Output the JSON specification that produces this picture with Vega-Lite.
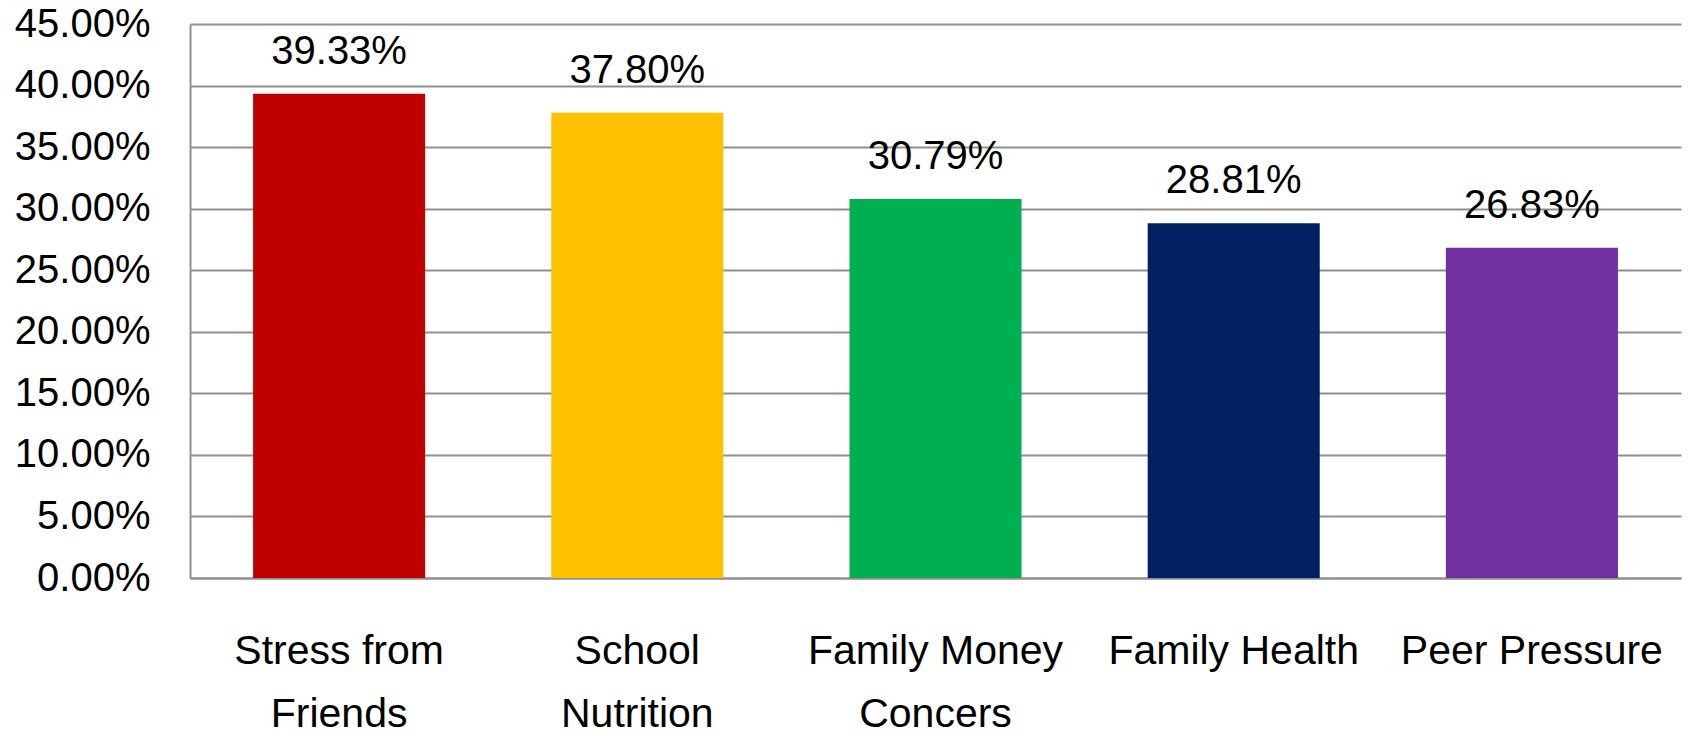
{
  "$schema": "https://vega.github.io/schema/vega-lite/v6.json",
  "autosize": "none",
  "width": 1491,
  "height": 554,
  "padding": {"left": 190, "top": 24, "right": 7, "bottom": 158},
  "background": "white",
  "config": {
    "view": {"stroke": null},
    "font": "Liberation Sans",
    "axis": {"labelFont": "Liberation Sans", "labelColor": "#000000"}
  },
  "data": {
    "values": [
      {"category": "Stress from Friends", "value": 0.3933, "color": "#C00000"},
      {"category": "School Nutrition", "value": 0.378, "color": "#FFC000"},
      {"category": "Family Money Concers", "value": 0.3079, "color": "#00B050"},
      {"category": "Family Health", "value": 0.2881, "color": "#002060"},
      {"category": "Peer Pressure", "value": 0.2683, "color": "#7030A0"}
    ]
  },
  "encoding": {
    "x": {
      "field": "category",
      "type": "nominal",
      "sort": null,
      "scale": {"paddingInner": 0.423, "paddingOuter": 0.2115},
      "axis": {
        "title": null,
        "labelAngle": 0,
        "labelFontSize": 41,
        "labelPadding": 53,
        "labelLineHeight": 63,
        "labelLimit": 0,
        "labelOverlap": false,
        "ticks": false,
        "domainColor": "#8f8f8f",
        "domainWidth": 2,
        "labelExpr": "datum.value == 'Stress from Friends' ? ['Stress from', 'Friends'] : datum.value == 'School Nutrition' ? ['School', 'Nutrition'] : datum.value == 'Family Money Concers' ? ['Family Money', 'Concers'] : datum.value"
      }
    },
    "y": {
      "field": "value",
      "type": "quantitative",
      "scale": {"domain": [0, 0.45], "nice": false},
      "axis": {
        "title": null,
        "format": ".2%",
        "values": [0, 0.05, 0.1, 0.15, 0.2, 0.25, 0.3, 0.35, 0.4, 0.45],
        "labelFontSize": 40,
        "labelPadding": 40,
        "ticks": false,
        "domainColor": "#8f8f8f",
        "domainWidth": 2,
        "gridColor": "#8f8f8f",
        "gridWidth": 2
      }
    }
  },
  "layer": [
    {
      "mark": {"type": "bar"},
      "encoding": {
        "color": {"field": "color", "type": "nominal", "scale": null}
      }
    },
    {
      "mark": {"type": "text", "baseline": "alphabetic", "dy": -30, "fontSize": 40, "color": "#000000"},
      "encoding": {
        "text": {"field": "value", "type": "quantitative", "format": ".2%"}
      }
    }
  ]
}
